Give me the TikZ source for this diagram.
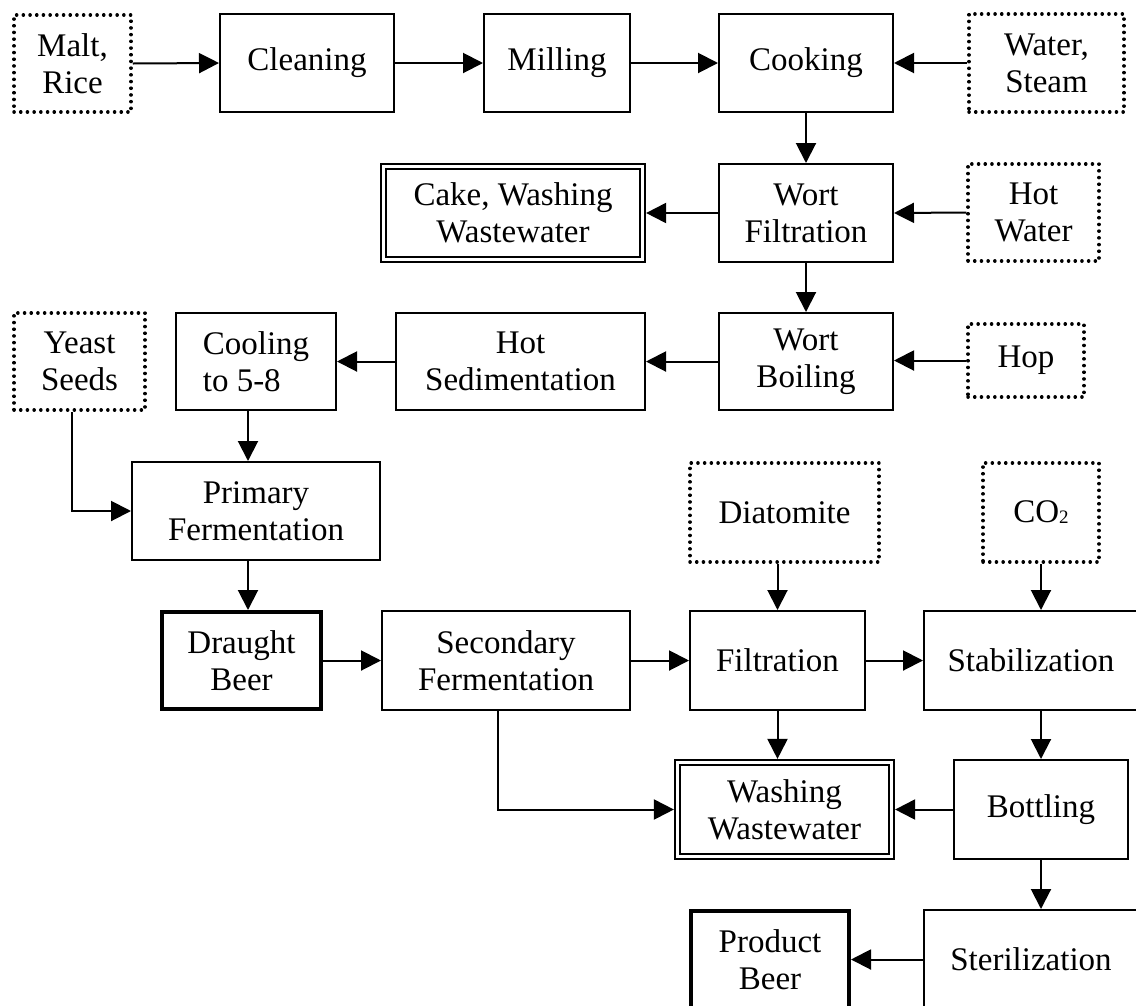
\documentclass[tikz,border=0pt]{standalone}
\usepackage{fontspec}
\setmainfont{Liberation Serif}
\usetikzlibrary{arrows.meta}
\begin{document}
\begin{tikzpicture}[x=1pt,y=-1pt,
  every node/.style={inner sep=0pt, align=center, font=\fontsize{33}{37}\selectfont},
  proc/.style={draw, line width=2pt},
  output/.style={draw, line width=4pt},
  waste/.style={draw, line width=2pt, double, double distance=3.2pt, outer sep=3.6pt},
  feed/.style={draw, line width=3.5pt, line cap=round, dash pattern=on 0.1pt off 6.6pt},
  arr/.style={line width=2pt, -{Triangle[length=20pt,width=20pt]}}
]
\useasboundingbox (0,0) rectangle (1136,1005);
\clip (0,0) rectangle (1136,1005);

% raw materials and additions
\node[feed, minimum width=117pt, minimum height=97pt] (malt)  at (72.5,63.5)  {Malt,\\Rice};
\node[feed, minimum width=155pt, minimum height=98pt] (water) at (1046.5,63)  {Water,\\Steam};
\node[feed, minimum width=131pt, minimum height=97pt] (hotw)  at (1033.5,212.5) {Hot\\Water};
\node[feed, minimum width=116pt, minimum height=73pt] (hop)   at (1026,360.5) {Hop};
\node[feed, minimum width=131pt, minimum height=97pt] (yeast) at (79.5,361.5)  {Yeast\\Seeds};
\node[feed, minimum width=189pt, minimum height=99pt] (diat)  at (784.5,512.5) {Diatomite};
\node[feed, minimum width=116pt, minimum height=99pt] (co2)   at (1041,512.5)  {CO\raisebox{-1pt}{\fontsize{19}{19}\selectfont 2}};

% process steps
\node[proc, minimum width=174pt, minimum height=98pt] (clean) at (307,63)  {Cleaning};
\node[proc, minimum width=146pt, minimum height=98pt] (mill)  at (557,63)  {Milling};
\node[proc, minimum width=174pt, minimum height=98pt] (cook)  at (806,63)  {Cooking};
\node[proc, minimum width=174pt, minimum height=98pt] (wfilt) at (806,213) {Wort\\Filtration};
\node[proc, minimum width=174pt, minimum height=97pt] (wboil) at (806,361.5) {Wort\\Boiling};
\node[proc, minimum width=249pt, minimum height=97pt] (hsed)  at (520.5,361.5) {Hot\\Sedimentation};
\node[proc, minimum width=160pt, minimum height=97pt, align=left] (cool) at (256,361.5) {Cooling\\to 5-8};
\node[proc, minimum width=248pt, minimum height=98pt] (prim)  at (256,511) {Primary\\Fermentation};
\node[proc, minimum width=248pt, minimum height=99pt] (sec)   at (506,660.5) {Secondary\\Fermentation};
\node[proc, minimum width=175pt, minimum height=99pt] (filt)  at (777.5,660.5) {Filtration};
\node[proc, minimum width=214pt, minimum height=99pt] (stab)  at (1031,660.5) {Stabilization};
\node[proc, minimum width=174pt, minimum height=99pt] (bott)  at (1041,809.5) {Bottling};
\node[proc, minimum width=214pt, minimum height=99pt] (ster)  at (1031,959.5) {Sterilization};

% products
\node[output, minimum width=159pt, minimum height=97pt] (draught) at (241.5,660.5) {Draught\\Beer};
\node[output, minimum width=158pt, minimum height=97pt] (product) at (770,959.5) {Product\\Beer};

% wastes
\node[waste, minimum width=259pt, minimum height=93pt] (cake) at (513,213)   {Cake, Washing\\Wastewater};
\node[waste, minimum width=214pt, minimum height=94pt] (wash) at (784.5,809.5) {Washing\\Wastewater};

% flows
\draw[arr] (malt.east) -- (clean.west);
\draw[arr] (clean.east) -- (mill.west);
\draw[arr] (mill.east) -- (cook.west);
\draw[arr] (water.west) -- (cook.east);
\draw[arr] (cook.south) -- (wfilt.north);
\draw[arr] (wfilt.west) -- (cake.east);
\draw[arr] (hotw.west) -- (wfilt.east);
\draw[arr] (wfilt.south) -- (wboil.north);
\draw[arr] (hop.west) -- (hop.west -| wboil.east);
\draw[arr] (wboil.west) -- (hsed.east);
\draw[arr] (hsed.west) -- (cool.east);
\draw[arr] ([xshift=-7.5pt]yeast.south) |- (prim.west);
\draw[arr] ([xshift=-8pt]cool.south) -- ([xshift=-8pt]prim.north);
\draw[arr] ([xshift=-8pt]prim.south) -- ([xshift=-8pt]prim.south |- draught.north);
\draw[arr] (draught.east) -- (sec.west);
\draw[arr] (sec.east) -- (filt.west);
\draw[arr] (diat.south -| filt.north) -- (filt.north);
\draw[arr] (filt.east) -- (stab.west);
\draw[arr] (co2.south) -- (co2.south |- stab.north);
\draw[arr] (filt.south) -- (filt.south |- wash.north);
\draw[arr] ([xshift=-8pt]sec.south) |- (wash.west);
\draw[arr] (bott.west) -- (wash.east);
\draw[arr] (bott.north |- stab.south) -- (bott.north);
\draw[arr] (bott.south) -- (bott.south |- ster.north);
\draw[arr] (ster.west) -- (product.east);
\end{tikzpicture}
\end{document}
